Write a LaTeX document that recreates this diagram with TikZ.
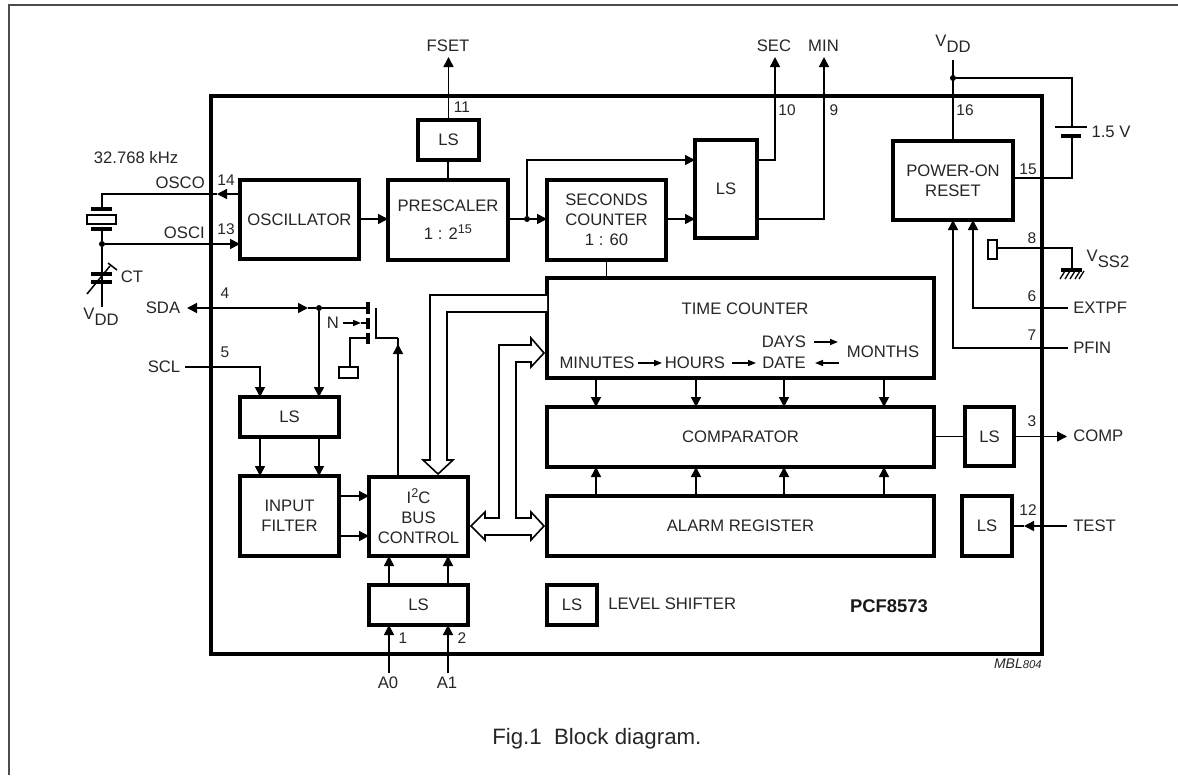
\documentclass[tikz,border=0pt]{standalone}
\usepackage{fontspec}
\setmainfont{Liberation Sans}
\usetikzlibrary{arrows.meta,calc}
\newcommand{\VSubT}[1]{V\raisebox{-4.6pt}{#1}}
\newcommand{\SupT}[1]{\raisebox{4.5pt}{\fontsize{9.5}{10}\selectfont #1}}
\tikzset{
  px/.style={x=0.75pt,y=-0.75pt},
  txt/.style={inner sep=0pt,text=black!85,font=\fontsize{12.5}{15}\selectfont,align=center},
  pinno/.style={inner sep=0pt,text=black!85,font=\fontsize{11.6}{14}\selectfont},
  blk/.style={draw=black,line width=2.4pt,fill=white,inner sep=0pt,outer sep=0pt,text=black!85,font=\fontsize{12.5}{15}\selectfont,align=center,anchor=north west},
  wire/.style={draw=black,line width=1.15pt},
  arr/.style={wire,-{Triangle[length=7.5pt,width=7.5pt]}},
  arrs/.style={wire,-{Triangle[length=6pt,width=4.5pt]}},
  fat/.style={draw=black,line width=1.2pt,fill=white,line join=miter},
  dotn/.style={circle,fill=black,inner sep=0pt,outer sep=0pt,minimum size=4.5pt},
  plate/.style={draw=black,line width=3pt},
  pad/.style={draw=black,line width=1.15pt,fill=white,inner sep=0pt,outer sep=0pt},
}
% #1 name, #2 x0, #3 y0, #4 x1, #5 y1, #6 text
\newcommand{\blkn}[6]{%
  \pgfmathsetmacro{\bw}{(#4-#2)*0.75}\pgfmathsetmacro{\bh}{(#5-#3)*0.75}%
  \node[blk,minimum width=\bw pt,minimum height=\bh pt] (#1) at (#2,#3) {#6};}
\begin{document}
\begin{tikzpicture}[px]
\useasboundingbox (0,0) rectangle (1178,775);
\fill[white] (0,0) rectangle (1178,775);
% page frame
\coordinate (pageTR) at (1178,5);
\coordinate (pageTL) at (9,5);
\coordinate (pageBL) at (9,775);
\draw[draw=black!70,line width=1.5pt] (pageBL) -- (pageTL) -- (pageTR);
% chip outline
\node[draw=black,line width=2.4pt,inner sep=0pt,outer sep=0pt,minimum width=623.25pt,minimum height=418.5pt,anchor=north west] (chip) at (211,96) {};

% pins (free ends)
\coordinate (pFSET) at (448.5,57);
\coordinate (pSEC) at (775,57);
\coordinate (pMIN) at (824,57);
\coordinate (pVDD) at (953,60);
\coordinate (pEXT) at (1068,308);
\coordinate (pPFIN) at (1068,348);
\coordinate (pCOMP) at (1067,436.5);
\coordinate (pTEST) at (1067,526);
\coordinate (pA0) at (389,673);
\coordinate (pA1) at (448,673);
\coordinate (pSDA) at (187,308);
\coordinate (pSCL) at (185,367);

\blkn{osc}{240}{180}{359}{259}{OSCILLATOR}
\blkn{pre}{388}{180}{508}{260}{\raisebox{3pt}{PRESCALER}\\[3pt]1 : 2\SupT{15}}
\blkn{lsf}{418}{120}{479}{160}{LS}
\blkn{sec}{547}{180}{666}{260}{SECONDS\\COUNTER\\1 : 60}
\blkn{lss}{695}{140}{757}{238}{LS}
\blkn{por}{893}{141}{1013}{220}{POWER-ON\\RESET}
\blkn{tc}{547}{278}{934}{378}{}
\blkn{cmp}{547}{407}{934}{467}{COMPARATOR}
\blkn{alm}{547}{496}{934}{556}{ALARM REGISTER}
\blkn{lsc}{965}{407}{1014}{466}{LS}
\blkn{lst}{962}{496}{1012}{556}{LS}
\blkn{i2c}{369}{477}{468}{556}{I\SupT{2}C\\BUS\\CONTROL}
\blkn{flt}{240}{476}{339}{556}{INPUT\\FILTER}
\blkn{lsi}{240}{397}{339}{437}{LS}
\blkn{lsb}{369}{585}{468}{625}{LS}
\blkn{leg}{547}{585}{597}{625}{LS}

% top connectors
\draw[arr] (osc.east |- 0,219) -- (pre.west |- 0,219);
\draw[wire] (pre.north) -- (lsf.south -| pre.north);
\draw[arr] (lsf.north -| pFSET) -- (pFSET);
\node[dotn] (dotpre) at (527,219) {};
\draw[wire] (pre.east |- dotpre) -- (dotpre);
\draw[arr] (dotpre) -- (sec.west |- dotpre);
\draw[arr] (dotpre) |- (lss.west |- 0,160);
\draw[arr] (sec.east |- dotpre) -- (lss.west |- dotpre);
\draw[arr] (lss.east |- 0,160) -| (pSEC);
\draw[arr] (lss.east |- dotpre) -| (pMIN);
\draw[wire] (sec.south) -- (tc.north -| sec.south);

% power
\node[dotn] (dotv) at (953,78) {};
\draw[wire] (pVDD) -- (por.north);
\coordinate (batT) at (1072,127);
\coordinate (batB) at (1072,135);
\draw[wire] (dotv) -| (batT);
\draw[wire] (batB) |- (por.east |- 0,178);
\draw[wire] (1055,127) -- (1087,127);
\draw[plate] (1061,135.5) -- (1081,135.5);
\draw[arr] (pPFIN) -| (por.south);
\draw[arr] (pEXT) -| (por.south -| 973,0);
% VSS2
\node[pad,minimum width=7pt,minimum height=14.25pt] (pad8) at (992.5,249.5) {};
\coordinate (gnd) at (1072,269);
\draw[wire] (pad8.east |- 0,248) -| (gnd);
\draw[plate] (1061,270) -- (1082,270);
\foreach \hx in {1065,1070,1075,1080,1084}
  \draw[draw=black,line width=1pt] (\hx,271) -- (\hx-5,279);

% crystal
\node[dotn] (dotx) at (102,244) {};
\coordinate (xtalTop) at (102,208);
\coordinate (xtalBot) at (102,229);
\coordinate (pVDDl) at (102,307);
\coordinate (oscOut) at (217,194);
\draw[arr] (osc.west |- oscOut) -- (oscOut);
\draw[wire] (oscOut) -| (xtalTop);
\draw[plate] (91,209) -- (112,209);
\node[pad,minimum width=21.75pt,minimum height=7pt] (xtal) at (101.5,219.5) {};
\draw[plate] (91,229) -- (112,229);
\draw[wire] (xtalBot) -- (dotx);
\draw[arr] (dotx) -- (osc.west |- dotx);
\draw[wire] (dotx) -- (pVDDl);
\draw[plate] (91,274) -- (112,274);
\draw[plate] (91,282) -- (112,282);
\draw[wire] (87,294) -- (110,266);
\draw[wire] (108,263) -- (117,270);

% SDA/SCL
\node[dotn] (dots) at (319,308) {};
\coordinate (sdaMid) at (308,308);
\draw[wire,{Triangle[length=7.5pt,width=7.5pt]}-{Triangle[length=7.5pt,width=7.5pt]}] (pSDA) -- (sdaMid);
\draw[wire] (sdaMid) -- (dots);
\coordinate (pl1) at (366,308);
\coordinate (pl2) at (366,323);
\coordinate (pl3) at (366,338);
\draw[wire] (dots) -- (pl1);
\draw[arr] (dots) -- (dots |- lsi.north);
\draw[arr] (pSCL) -| (lsi.north -| 260,0);
\draw[plate] (368,302) -- (368,314);
\draw[plate] (368,318) -- (368,329);
\draw[plate] (368,333) -- (368,344);
\coordinate (pN) at (343,323);
\draw[arrs] (pN) -- (361,323);
\draw[wire] (361,323) -- (pl2);
\node[pad,minimum width=14.25pt,minimum height=8.25pt] (pad0) at (348.5,372.5) {};
\draw[wire] (pl3) -| (pad0.north -| 350,0);
\coordinate (chT) at (376,308);
\coordinate (chB) at (376,338);
\coordinate (chR) at (398,338);
\draw[wire] (chT) -- (chB) -- (chR);
\draw[wire] (chR) -- (398,352);
\draw[arr] (i2c.north -| chR) -- (398,344);

% LS -> input filter -> I2C
\draw[arr] (lsi.south -| 260,0) -- (flt.north -| 260,0);
\draw[arr] (lsi.south -| dots) -- (flt.north -| dots);
\draw[arr] (flt.east |- 0,496) -- (i2c.west |- 0,496);
\draw[arr] (flt.east |- 0,536) -- (i2c.west |- 0,536);
\draw[arr] (lsb.north -| 389,0) -- (i2c.south -| 389,0);
\draw[arr] (lsb.north -| 448,0) -- (i2c.south -| 448,0);
\draw[arr] (pA0) -- (lsb.south -| pA0);
\draw[arr] (pA1) -- (lsb.south -| pA1);

% fat buses
\draw[fat] (547,295) -- (430,295) -- (430,460) -- (423,460) -- (438,474) -- (453,460) -- (447,460) -- (447,312) -- (547,312);
\draw[fat] (471,526) -- (485,512) -- (485,518) -- (499,518) -- (499,345) -- (531,345) -- (531,338) -- (544,353) -- (531,367) -- (531,362) -- (516,362) -- (516,518) -- (531,518) -- (531,512) -- (544,526) -- (531,540) -- (531,535) -- (485,535) -- (485,540) -- cycle;

% inner register arrows
\foreach \ax in {596,696,784,884} {
  \draw[arr] (tc.south -| \ax,0) -- (cmp.north -| \ax,0);
  \draw[arr] (alm.north -| \ax,0) -- (cmp.south -| \ax,0);
}
% comp / test
\draw[wire] (cmp.east |- lsc.west) -- (lsc.west);
\draw[arr] (lsc.east |- pCOMP) -- (pCOMP);
\coordinate (tstTip) at (1024,526);
\draw[arr] (pTEST) -- (tstTip);
\draw[wire] (tstTip) -- (lst.east |- tstTip);

% time counter text
\node[txt] (tTC) at (745,309) {TIME COUNTER};
\node[txt] (tDAYS) at (784,342) {DAYS};
\node[txt] (tDATE) at (784,363) {DATE};
\node[txt] (tMON) at (883,352) {MONTHS};
\node[txt] (tMIN) at (597,363) {MINUTES};
\node[txt] (tHRS) at (695,363) {HOURS};
\draw[arrs] (638,363) -- (662,363);
\draw[arrs] (732,363) -- (756,363);
\draw[arrs] (814,342) -- (838,342);
\draw[arrs] (839,363) -- (815,363);

% labels
\node[txt] (lFSET) at (448,46) {FSET};
\node[txt] (lSEC) at (774,46) {SEC};
\node[txt] (lMIN) at (823.5,46) {MIN};
\node[txt] (lVDD) at (953,44) {\VSubT{DD}};
\node[txt] (l15V) at (1111,132) {1.5 V};
\node[txt] (lVSS) at (1108,259) {\VSubT{SS2}};
\node[txt,anchor=west] (lEXT) at (1073,308) {EXTPF};
\node[txt,anchor=west] (lPFIN) at (1073,348) {PFIN};
\node[txt,anchor=west] (lCOMP) at (1073,436) {COMP};
\node[txt,anchor=west] (lTEST) at (1073,526) {TEST};
\node[txt] (lKHZ) at (136,158) {32.768 kHz};
\node[txt,anchor=east] (lOSCO) at (205,183) {OSCO};
\node[txt,anchor=east] (lOSCI) at (205,233) {OSCI};
\node[txt] (lCT) at (132,277) {CT};
\node[txt] (lVDDl) at (101,317) {\VSubT{DD}};
\node[txt] (lSDA) at (163,308) {SDA};
\node[txt] (lSCL) at (164,367) {SCL};
\node[txt] (lN) at (333,323) {N};
\node[txt] (lA0) at (388,683) {A0};
\node[txt] (lA1) at (447,683) {A1};
\node[txt,anchor=west] (lLEV) at (608,604) {LEVEL SHIFTER};
\node[inner sep=0pt,text=black!90,font=\fontsize{13.8}{16}\selectfont\bfseries] (lPCF) at (889,606) {PCF8573};
\node[inner sep=0pt,text=black!85,font=\fontsize{10.5}{12}\selectfont\itshape,anchor=east] (lMBL) at (1042,664) {MBL{\fontsize{8.5}{10}\selectfont 804}};
\node[inner sep=0pt,text=black!85,font=\fontsize{16.7}{19}\selectfont,anchor=west] (lFIG) at (492,739) {Fig.1\ \ Block diagram.};

% pin numbers
\node[pinno] (n14) at (226,180) {14};
\node[pinno] (n13) at (226,229) {13};
\node[pinno] (n4) at (225,293) {4};
\node[pinno] (n5) at (225,352) {5};
\node[pinno] (n11) at (462,107) {11};
\node[pinno] (n10) at (787,110) {10};
\node[pinno] (n9) at (834,110) {9};
\node[pinno] (n16) at (965,110) {16};
\node[pinno] (n15) at (1028,169) {15};
\node[pinno] (n8) at (1032,238) {8};
\node[pinno] (n6) at (1032,296) {6};
\node[pinno] (n7) at (1032,335) {7};
\node[pinno] (n3) at (1032,421) {3};
\node[pinno] (n12) at (1028,510) {12};
\node[pinno] (n1) at (403,638) {1};
\node[pinno] (n2) at (462,638) {2};
\end{tikzpicture}
\end{document}
